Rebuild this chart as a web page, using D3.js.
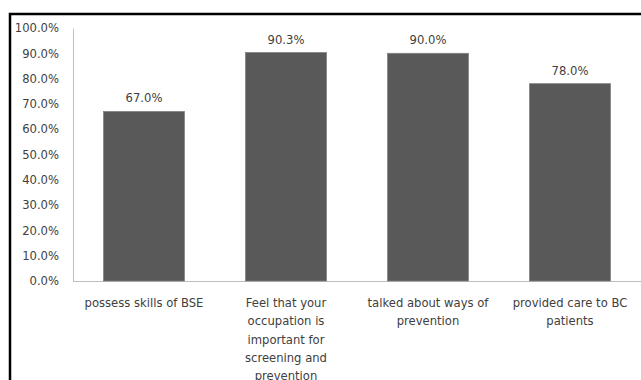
<!DOCTYPE html>
<html><head><meta charset="utf-8">
<script src="https://cdn.jsdelivr.net/npm/d3@7"></script>
<style>body{margin:0;background:#fff}svg{display:block}</style>
</head><body>
<svg id="c" width="641" height="380"></svg>
<script>
const categories = [
  ["possess skills of BSE"],
  ["Feel that your", "occupation is", "important for", "screening and", "prevention"],
  ["talked about ways of", "prevention"],
  ["provided care to BC", "patients"]
];
const values = [67.0, 90.3, 90.0, 78.0];
const yTicks = [0,10,20,30,40,50,60,70,80,90,100];

(function(){
const svg = d3.select("#c");
const font = "DejaVu Sans, Verdana, sans-serif";
const mL = 73, mR = 641, mT = 28, mB = 281;
const fs = 11.6;

svg.append("rect").attr("x",10).attr("y",14).attr("width",700).attr("height",500)
  .attr("fill","#fff").attr("stroke","#000").attr("stroke-width",2.5);

const x = d3.scaleBand().domain(d3.range(values.length)).range([mL,mR]).paddingInner(0.43).paddingOuter(0.215);
const y = d3.scaleLinear().domain([0,100]).range([mB,mT]);

const yAxis = svg.append("g").attr("transform",`translate(${mL},0)`)
  .call(d3.axisLeft(y).tickValues(yTicks).tickFormat(d=>d.toFixed(1)+"%").tickSize(0).tickPadding(14));
yAxis.select(".domain").attr("stroke","#bfbfbf");
yAxis.selectAll("text").attr("font-family",font).attr("font-size",fs).attr("fill","#404040");

svg.append("line").attr("x1",mL).attr("x2",mR).attr("y1",mB+0.5).attr("y2",mB+0.5).attr("stroke","#bfbfbf");

svg.selectAll("rect.bar").data(values).join("rect").attr("class","bar")
  .attr("x",(d,i)=>x(i)).attr("width",x.bandwidth())
  .attr("y",d=>y(d)).attr("height",d=>mB-y(d))
  .attr("fill","#595959").attr("stroke","#7f7f7f").attr("stroke-width",0.75);

svg.selectAll("text.val").data(values).join("text").attr("class","val")
  .attr("x",(d,i)=>x(i)+x.bandwidth()/2).attr("y",d=>y(d)-9)
  .attr("text-anchor","middle").attr("font-family",font).attr("font-size",fs).attr("fill","#404040")
  .text(d=>d.toFixed(1)+"%");

const cat = svg.selectAll("text.cat").data(categories).join("text").attr("class","cat")
  .attr("text-anchor","middle").attr("font-family",font).attr("font-size",fs).attr("fill","#404040");
cat.each(function(lines,i){
  const t = d3.select(this);
  lines.forEach((l,j)=>{
    t.append("tspan").attr("x",x(i)+x.bandwidth()/2).attr("y",mB+26+j*18.3).text(l);
  });
});
})();
</script>
</body></html>
